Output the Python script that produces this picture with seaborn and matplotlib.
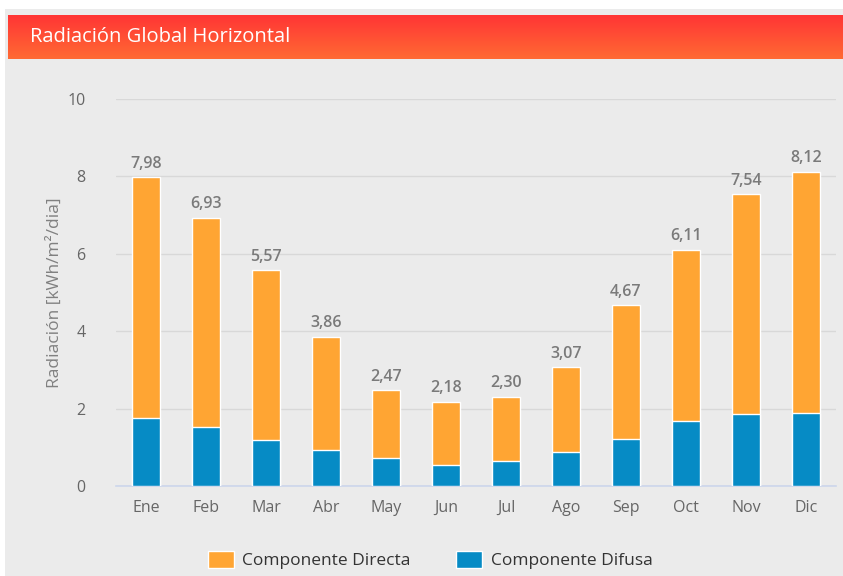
import numpy as np
import pandas as pd
import matplotlib
matplotlib.use("Agg")
import matplotlib.pyplot as plt
from matplotlib.patches import Patch, Rectangle
from matplotlib.colors import LinearSegmentedColormap
import seaborn as sns

months = ["Ene", "Feb", "Mar", "Abr", "May", "Jun", "Jul", "Ago", "Sep", "Oct", "Nov", "Dic"]
total = [7.98, 6.93, 5.57, 3.86, 2.47, 2.18, 2.30, 3.07, 4.67, 6.11, 7.54, 8.12]
difusa = [1.76, 1.53, 1.19, 0.92, 0.72, 0.53, 0.65, 0.89, 1.22, 1.69, 1.85, 1.89]
yticks = [0, 2, 4, 6, 8, 10]

ORANGE = "#ffa533"
BLUE = "#068bc5"
BG = "#ebebeb"
TXT = "#666666"

sns.set_theme(style="white")
plt.rcParams["font.family"] = ["Open Sans", "DejaVu Sans"]

fig = plt.figure(figsize=(8.43, 5.76), dpi=100)
fig.patch.set_facecolor("white")

# outer gray panel
bgax = fig.add_axes([0, 0, 1, 1], zorder=-10)
bgax.set_axis_off()
bgax.set_xlim(0, 1)
bgax.set_ylim(0, 1)
bgax.add_patch(Rectangle((5 / 843, 0), 1, 1 - 9 / 576, facecolor=BG, edgecolor="none"))

# header gradient
hax = fig.add_axes([8 / 843, 1 - 59 / 576, 1 - 8 / 843, 44 / 576], zorder=-5)
grad = np.linspace(0, 1, 100).reshape(-1, 1)
cmap = LinearSegmentedColormap.from_list("hdr", ["#ff3535", "#ff6a33"])
hax.imshow(grad, aspect="auto", cmap=cmap, extent=[0, 1, 1, 0])
hax.set_axis_off()
hax.text(0.026, 0.5, "Radiación Global Horizontal", color="white", fontsize=14.5,
         va="center", ha="left", transform=hax.transAxes)

ax = fig.add_axes([116 / 843, 1 - 486 / 576, 720 / 843, 387 / 576])
ax.set_facecolor(BG)

df = pd.DataFrame({"mes": months, "total": total, "difusa": difusa})
sns.barplot(data=df, x="mes", y="total", color=ORANGE, width=0.48, saturation=1,
            edgecolor="white", linewidth=1, ax=ax, zorder=3)
sns.barplot(data=df, x="mes", y="difusa", color=BLUE, width=0.48, saturation=1,
            edgecolor="white", linewidth=1, ax=ax, zorder=4)

for i, v in enumerate(total):
    ax.annotate(f"{v:.2f}".replace(".", ","), (i, v), xytext=(0, 4), textcoords="offset points",
                ha="center", va="bottom", fontsize=11.5, color="#7a7a7a", fontweight="semibold", zorder=5)

ax.set_ylim(0, 10)
ax.set_xlim(-0.5, 11.5)
ax.set_yticks(yticks)
ax.set_yticklabels([str(t) for t in yticks])
ax.yaxis.grid(True, color="#d8d8d8", linewidth=1)
ax.set_axisbelow(True)
for s in ["top", "right", "left"]:
    ax.spines[s].set_visible(False)
ax.spines["bottom"].set_color("#ccd6eb")
ax.spines["bottom"].set_linewidth(1.2)
ax.set_xticks(np.arange(-0.5, 12, 1), minor=True)
ax.tick_params(axis="x", which="minor", length=10, color="#ccd6eb", width=1.2, direction="out")
ax.tick_params(axis="x", which="major", length=0, pad=10, labelsize=11.5, labelcolor=TXT)
ax.tick_params(axis="y", length=0, pad=22, labelsize=11.5, labelcolor=TXT)
ax.set_xlabel("")
ax.set_ylabel("Radiación [kWh/m²/dia]", fontsize=12.5, color="#808080", labelpad=3)

handles = [Patch(facecolor=ORANGE, edgecolor="white", label="Componente Directa"),
           Patch(facecolor=BLUE, edgecolor="white", label="Componente Difusa")]
fig.legend(handles=handles, loc="center", bbox_to_anchor=(0.51, 1 - 560 / 576), ncol=2,
           frameon=False, fontsize=12.5, labelcolor="#333333", handlelength=1.5, handleheight=1.2,
           columnspacing=2.6, handletextpad=0.5)

fig.savefig("out.png", dpi=100, facecolor=fig.get_facecolor())
